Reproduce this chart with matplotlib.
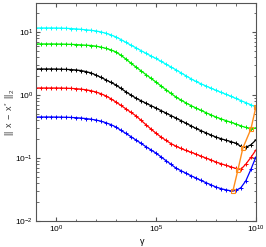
import numpy as np
import matplotlib
matplotlib.use("Agg")
import matplotlib.pyplot as plt
from matplotlib.ticker import LogLocator, NullFormatter

plt.rcParams["font.family"] = "Liberation Sans"
plt.rcParams["mathtext.fontset"] = "custom"
plt.rcParams["mathtext.rm"] = "Liberation Sans"
plt.rcParams["mathtext.it"] = "Liberation Sans"
plt.rcParams["mathtext.bf"] = "Liberation Sans:bold"

# gamma sampled every quarter decade, 1e-1 .. 1e10
gamma = np.logspace(-1, 10, 45)

# log10 of ||x - x*||_2
cyan_log = [1.063, 1.063, 1.063, 1.063, 1.062, 1.061, 1.058, 1.054, 1.048, 1.042,
            1.034, 1.026, 1.016, 1.000, 0.980, 0.953, 0.921, 0.880, 0.835, 0.790,
            0.750, 0.705, 0.662, 0.620, 0.580, 0.535, 0.490, 0.445, 0.400, 0.352,
            0.305, 0.258, 0.215, 0.178, 0.143, 0.109, 0.075, 0.043, 0.012, -0.020,
            -0.055, -0.088, -0.122, -0.156, -0.190]
green_log = [0.810, 0.810, 0.810, 0.810, 0.809, 0.808, 0.806, 0.803, 0.800, 0.795,
             0.790, 0.785, 0.775, 0.760, 0.740, 0.715, 0.683, 0.630, 0.570, 0.505,
             0.444, 0.385, 0.325, 0.265, 0.206, 0.145, 0.085, 0.025, -0.032, -0.080,
             -0.125, -0.167, -0.206, -0.243, -0.280, -0.315, -0.350, -0.378, -0.406,
             -0.433, -0.460, -0.490, -0.515, -0.540, -0.520]
black_log = [0.413, 0.413, 0.413, 0.413, 0.412, 0.410, 0.407, 0.403, 0.397, 0.388,
             0.372, 0.350, 0.317, 0.280, 0.240, 0.200, 0.159, 0.105, 0.050, 0.000,
             -0.050, -0.090, -0.130, -0.168, -0.206, -0.246, -0.286, -0.326, -0.365,
             -0.406, -0.447, -0.488, -0.530, -0.565, -0.600, -0.635, -0.667, -0.693,
             -0.717, -0.740, -0.765, -0.815, -0.830, -0.790, -0.714]
red_log = [0.111, 0.111, 0.111, 0.111, 0.111, 0.110, 0.108, 0.105, 0.100, 0.093,
           0.083, 0.068, 0.048, 0.020, -0.015, -0.060, -0.111, -0.165, -0.220, -0.275,
           -0.330, -0.400, -0.470, -0.540, -0.605, -0.665, -0.720, -0.770, -0.812,
           -0.848, -0.880, -0.908, -0.937, -0.970, -1.000, -1.030, -1.063, -1.090,
           -1.115, -1.140, -1.165, -1.180, -1.095, -0.990, -0.873]
blue_log = [-0.349, -0.349, -0.349, -0.349, -0.350, -0.351, -0.353, -0.356, -0.360, -0.366,
            -0.374, -0.384, -0.397, -0.415, -0.440, -0.470, -0.508, -0.560, -0.610, -0.660,
            -0.714, -0.765, -0.820, -0.870, -0.921, -0.980, -1.040, -1.100, -1.159,
            -1.200, -1.240, -1.280, -1.317, -1.355, -1.390, -1.425, -1.460, -1.485,
            -1.505, -1.520, -1.515, -1.470, -1.360, -1.180, -0.984]

# minima of each curve (log10 gamma, log10 error)
min_gamma_log = [8.85, 9.10, 9.35, 9.75, 10.0]
min_err_log = [-1.524, -1.190, -0.840, -0.540, -0.190]

curves = [(cyan_log, "#00ffff"), (green_log, "#00ee00"), (black_log, "#000000"),
          (red_log, "#ff0000"), (blue_log, "#0000ff")]

fig = plt.figure(figsize=(2.66, 2.47), dpi=100)
ax = fig.add_axes([0.135, 0.105, 0.827, 0.883])

for vals, col in curves:
    ax.loglog(gamma, 10 ** np.array(vals), color=col, lw=0.9, marker="+",
              ms=3.5, mew=0.7)

ax.loglog(10 ** np.array(min_gamma_log), 10 ** np.array(min_err_log),
          color="#ff8c1a", lw=1.0, marker="s", ms=3, mfc="none", mew=0.8)

ax.set_xlim(1e-1, 1e10)
ax.set_ylim(1e-2, 10 ** 1.46)
ax.set_xticks([1e0, 1e5, 1e10])
ax.xaxis.set_minor_locator(LogLocator(base=10, subs=[], numticks=20))
ax.xaxis.set_minor_formatter(NullFormatter())
ax.set_yticks([1e-2, 1e-1, 1e0, 1e1])
ax.yaxis.set_minor_locator(LogLocator(base=10, subs=np.arange(2, 10), numticks=20))
ax.yaxis.set_minor_formatter(NullFormatter())

ax.tick_params(which="both", direction="in", top=True, right=True,
               labelsize=6, color="#555555", pad=2)
ax.tick_params(which="major", length=3)
ax.tick_params(which="minor", length=1.8)
for s in ax.spines.values():
    s.set_color("#555555")
    s.set_linewidth(0.8)

ax.set_xlabel(r"$\gamma$", fontsize=6.5)
ax.xaxis.set_label_coords(0.485, -0.075)
ax.set_ylabel(r"$||\;\;x\;-\;x^{*}\;\;||_2$", fontsize=6.5, color="#333333")
ax.yaxis.set_label_coords(-0.085, 0.5)

fig.savefig("out.png", dpi=100)
